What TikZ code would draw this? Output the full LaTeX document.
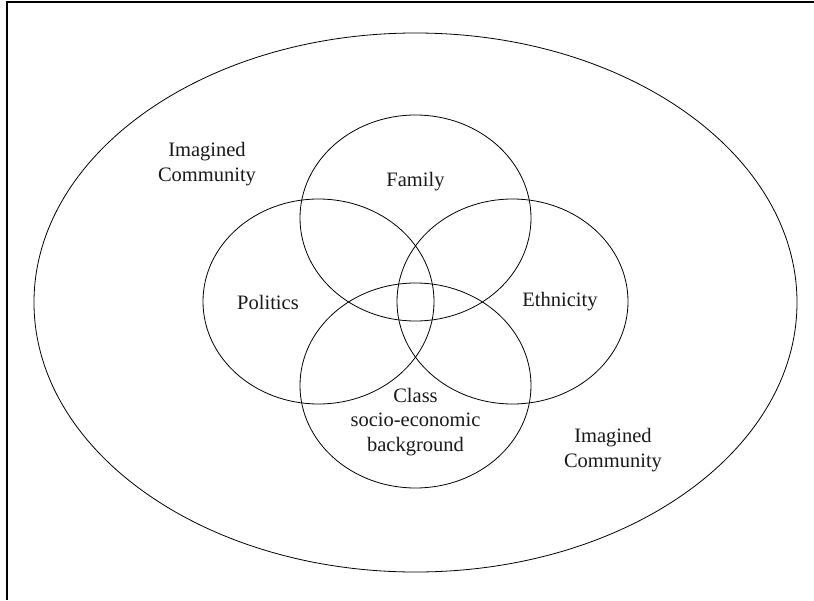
\documentclass[tikz,border=0pt]{standalone}
\usepackage{fontspec}
\setmainfont{Liberation Serif}
\usetikzlibrary{shapes.geometric}
\begin{document}
\begin{tikzpicture}[x=1pt,y=-1pt,
  ring/.style={draw=black, line width=0.8pt, ellipse, inner sep=0pt},
  lab/.style={font=\fontsize{20.5}{24.5}\selectfont, align=center, inner sep=0pt, text=black!90}]
\useasboundingbox (0,0) rectangle (814,600);
\draw[line width=1.3pt] (7,600) -- (7,2) -- (814,2);
\node[ring, minimum width=763pt, minimum height=539pt] (outer) at (415.5,302.5) {};
\node[ring, minimum width=231pt, minimum height=206pt] (family) at (415.5,218) {};
\node[ring, minimum width=231pt, minimum height=205pt] (politics) at (318.5,301.5) {};
\node[ring, minimum width=231pt, minimum height=205pt] (ethnicity) at (512.5,301.5) {};
\node[ring, minimum width=231pt, minimum height=205pt] (class) at (415.5,385.5) {};
\node[lab] (tfamily) at (415.5,182) {Family};
\node[lab] (tpolitics) at (268,302) {Politics};
\node[lab] (tethnicity) at (560,302) {Ethnicity};
\node[lab] (tclass) at (415.5,422) {Class\\socio-economic\\background};
\node[lab] (ic1) at (207,164) {Imagined\\Community};
\node[lab] (ic2) at (613,450) {Imagined\\Community};
\end{tikzpicture}
\end{document}
